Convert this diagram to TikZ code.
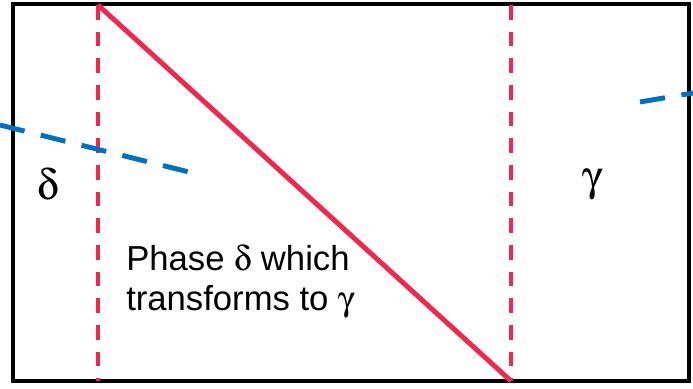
\documentclass[tikz,border=0pt]{standalone}
\usepackage{fontspec}
\setmainfont{Liberation Sans}
\usepackage[Symbol]{upgreek}
\usepackage{xcolor}
\usetikzlibrary{positioning, calc}

\definecolor{phasered}{RGB}{240,40,80}
\definecolor{tieblue}{RGB}{0,112,192}

\tikzset{
  boundary/.style={phasered, line width=2.4pt, dash pattern=on 11pt off 9pt},
  tieline/.style={tieblue, line width=3.7pt, dash pattern=on 19pt off 12.5pt},
  phaselabel/.style={font=\fontsize{32}{38}\selectfont, inner sep=0pt}
}

\begin{document}
\begin{tikzpicture}[x=0.75pt, y=-0.75pt]
      \useasboundingbox (0,0) rectangle (693,389);

      % Outer box
      \draw[line width=3pt] (13,4) rectangle (689,381);

      % Corners of the transformation band
      \coordinate (topleft) at (98,5);
      \coordinate (botleft) at (98,381);
      \coordinate (topright) at (511,5);
      \coordinate (botright) at (511,381);

      % Band limits
      \draw[boundary] (topleft) -- (botleft);
      \draw[boundary] (topright) -- (botright);

      % Transformation front
      \draw[phasered, line width=3.7pt] (topleft) -- (botright);

      % Tie lines
      \coordinate (tieA) at (0,125);
      \coordinate (tieB) at (193,173);
      \coordinate (tieC) at (640,102);
      \coordinate (tieD) at (693,93);
      \draw[tieline] (tieA) -- (tieB);
      \draw[tieline] (tieC) -- (tieD);

      % Phase labels
      \node[phaselabel] (delta) at (48,185) {$\updelta$};
      \node[phaselabel] (gamma) at (593,185) {$\upgamma$};
      \node[anchor=north west, inner sep=0pt, align=left,
            font=\fontsize{26}{30}\selectfont] (band) at (126,245)
        {Phase $\updelta$ which\\transforms to $\upgamma$};

\end{tikzpicture}
\end{document}
